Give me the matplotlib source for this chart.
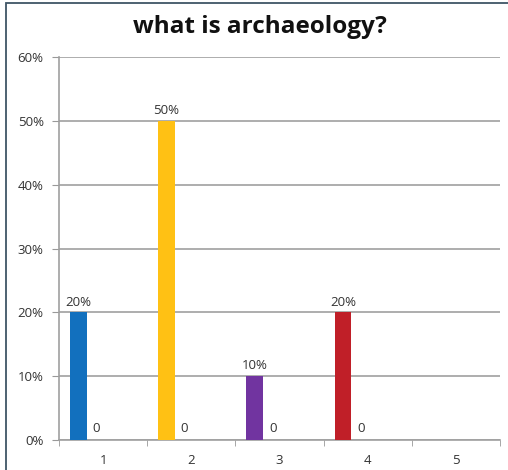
import matplotlib.pyplot as plt
from matplotlib.patches import Rectangle
import numpy as np

categories = [1, 2, 3, 4, 5]
answers = [0.20, 0.50, 0.10, 0.20, None]
others = [0, 0, 0, 0, None]
bar_colors = ["#1270BE", "#FFC114", "#7134A0", "#C01F28"]
y_ticks = [0, 0.1, 0.2, 0.3, 0.4, 0.5, 0.6]

plt.rcParams['font.family'] = ['Open Sans', 'DejaVu Sans']

fig = plt.figure(figsize=(5.08, 4.70), dpi=100)
ax = fig.add_axes([59 / 508, 1 - 440 / 470, 441 / 508, 383 / 470])

# frame around the chart (only top and left visible in the crop)
fig.patches.append(Rectangle((6 / 508, -0.1), 1.2, 1 - 3 / 470 + 0.1,
                             transform=fig.transFigure, fill=False,
                             edgecolor="#3F5566", linewidth=1.3))

x = np.array(categories, dtype=float)
w = 0.19
for i in range(4):
    ax.bar(x[i] - 0.28, answers[i], width=w, color=bar_colors[i], zorder=3)
    ax.text(x[i] - 0.28, answers[i] + 0.006, f"{answers[i]:.0%}",
            ha="center", va="bottom", fontsize=9.5, color="#333333")
    ax.text(x[i] - 0.12, 0.008, str(others[i]), ha="left", va="bottom",
            fontsize=9.5, color="#333333")

ax.set_xlim(0.5, 5.5)
ax.set_ylim(0, 0.6)
ax.set_yticks(y_ticks)
ax.set_yticklabels([f"{t:.0%}" for t in y_ticks], fontsize=9.5, color="#333333")
ax.set_xticks(categories)
ax.set_xticklabels([str(c) for c in categories], fontsize=9.5, color="#333333")
ax.set_xticks(np.arange(0.5, 6.0, 1.0), minor=True)
ax.tick_params(axis="x", which="major", length=0, pad=10)
ax.tick_params(axis="x", which="minor", length=4, color="#999999")
ax.tick_params(axis="y", length=5, color="#999999", pad=6)

ax.grid(axis="y", color="#A0A0A0", linewidth=1.2, zorder=0)
for s in ["top", "right"]:
    ax.spines[s].set_visible(False)
for s in ["left", "bottom"]:
    ax.spines[s].set_color("#A0A0A0")
    ax.spines[s].set_linewidth(1.2)

fig.text(260 / 508, 1 - 27 / 470, "what is archaeology?", ha="center",
         va="center", fontsize=17.5, fontweight="bold", color="#111111")

fig.savefig("out.png", dpi=100)
